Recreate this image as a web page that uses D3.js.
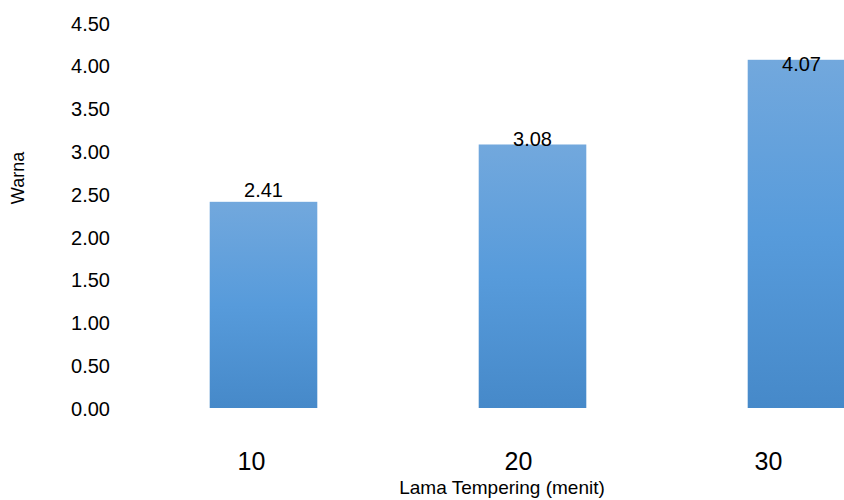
<!DOCTYPE html>
<html>
<head>
<meta charset="utf-8">
<script src="https://cdn.jsdelivr.net/npm/d3@7/dist/d3.min.js"></script>
<style>
  body { margin: 0; background: #fff; }
  text { font-family: "Liberation Sans", Arial, sans-serif; fill: #000; }
</style>
</head>
<body>
<div class="barChart"></div>
<script>
// --- Data ---
const categories = ["10", "20", "30"];
const values = [2.41, 3.08, 4.07];
const yTicks = [0, 0.5, 1, 1.5, 2, 2.5, 3, 3.5, 4, 4.5];

const width = 844;
const height = 500;

// --- SVG ---
const svg = d3.select(".barChart")
  .append("svg")
  .attr("width", width)
  .attr("height", height);

// gradient like the office bar fill
const grad = svg.append("defs").append("linearGradient")
  .attr("id", "barGrad")
  .attr("x1", 0).attr("y1", 0).attr("x2", 0).attr("y2", 1);
grad.append("stop").attr("offset", "0%").attr("stop-color", "#72a8dd");
grad.append("stop").attr("offset", "50%").attr("stop-color", "#579bdb");
grad.append("stop").attr("offset", "100%").attr("stop-color", "#4689c9");

// --- Scales ---
const x = d3.scaleBand().domain(categories).range([129, 936])
  .paddingInner(0.6).paddingOuter(0.3);
const y = d3.scaleLinear().domain([0, 4.5]).range([408, 23]);
// category labels sit a bit left of the bars in the original
const xLab = d3.scaleOrdinal().domain(categories).range([251, 518, 768]);
// data labels drift relative to the bar tops in the original
const labelY = d3.scaleLinear().domain([0, 4.5]).range([380, 38]);

// --- Y axis (labels only) ---
const yAxis = d3.axisLeft(y)
  .tickValues(yTicks)
  .tickSize(0)
  .tickPadding(0)
  .tickFormat(d3.format(".2f"));

svg.append("g")
  .attr("class", "yAxis")
  .attr("transform", "translate(110,0)")
  .call(yAxis)
  .call(g => g.select(".domain").remove())
  .selectAll("text")
  .attr("dy", "0.36em")
  .style("font-family", "Liberation Sans, Arial, sans-serif")
  .style("font-size", "20px");

// --- X axis (labels only) ---
const xAxis = d3.axisBottom(xLab).tickSize(0).tickPadding(0);
svg.append("g")
  .attr("class", "xAxis")
  .attr("transform", "translate(0,470)")
  .call(xAxis)
  .call(g => g.select(".domain").remove())
  .selectAll("text")
  .attr("y", 0)
  .attr("dy", 0)
  .style("font-family", "Liberation Sans, Arial, sans-serif")
  .style("font-size", "25px");

// --- Bars ---
svg.selectAll(".bar")
  .data(values)
  .enter().append("rect")
  .attr("class", "bar")
  .attr("x", (d, i) => x(categories[i]))
  .attr("y", d => y(d))
  .attr("width", x.bandwidth())
  .attr("height", d => y(0) - y(d))
  .style("fill", "url(#barGrad)");

// --- Value labels ---
svg.selectAll(".valueLabel")
  .data(values)
  .enter().append("text")
  .attr("class", "valueLabel")
  .attr("x", (d, i) => x(categories[i]) + x.bandwidth() / 2)
  .attr("y", d => labelY(d))
  .attr("text-anchor", "middle")
  .style("font-size", "20px")
  .text(d => d3.format(".2f")(d));

// --- Axis titles ---
svg.append("text")
  .attr("x", 502)
  .attr("y", 494)
  .attr("text-anchor", "middle")
  .style("font-size", "19px")
  .text("Lama Tempering (menit)");

svg.append("text")
  .attr("transform", "translate(24,178) rotate(-90)")
  .attr("text-anchor", "middle")
  .style("font-size", "18px")
  .text("Warna");
</script>
</body>
</html>
